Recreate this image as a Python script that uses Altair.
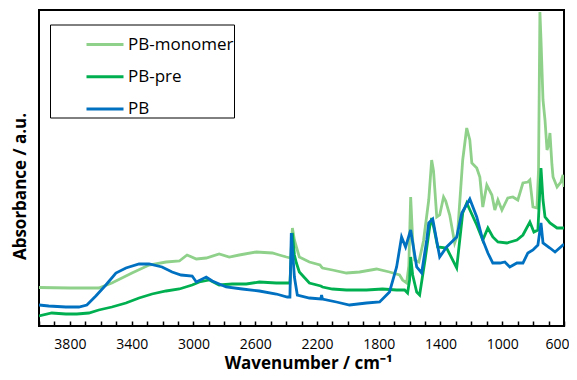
import altair as alt
import pandas as pd

series_names = ["PB-monomer", "PB-pre", "PB"]
colors = ["#8FD18A", "#00B050", "#0070C0"]

mono_wn = [4000, 3800, 3613, 3528, 3398, 3287, 3177, 3091, 3041, 2981, 2917, 2833, 2768, 2703, 2593, 2489, 2444, 2398, 2370, 2359, 2346, 2333, 2314, 2249, 2180, 2170, 2164, 2100, 2009, 1924, 1814, 1730, 1665, 1645, 1619, 1605, 1593, 1580, 1567, 1540, 1510, 1476, 1457, 1445, 1424, 1405, 1380, 1366, 1340, 1308, 1290, 1256, 1230, 1210, 1197, 1165, 1145, 1126, 1100, 1067, 1048, 1028, 1002, 964, 931, 899, 866, 834, 821, 801, 775, 765, 756, 749, 736, 723, 710, 700, 691, 678, 671, 645, 620, 606, 600]
mono_ab = [0.385, 0.38, 0.38, 0.43, 0.53, 0.61, 0.64, 0.65, 0.71, 0.67, 0.68, 0.72, 0.69, 0.71, 0.74, 0.73, 0.71, 0.69, 0.68, 0.98, 0.86, 0.79, 0.69, 0.64, 0.61, 0.59, 0.58, 0.56, 0.53, 0.54, 0.57, 0.54, 0.51, 0.46, 0.43, 0.60, 1.29, 0.86, 0.66, 0.64, 0.85, 1.26, 1.66, 1.55, 1.09, 1.11, 1.29, 1.25, 1.11, 0.83, 0.91, 1.66, 1.98, 1.86, 1.63, 1.58, 1.49, 1.19, 1.41, 1.31, 1.16, 1.26, 1.16, 1.28, 1.29, 1.26, 1.43, 1.44, 1.46, 1.19, 1.18, 1.56, 3.14, 2.86, 2.26, 2.06, 1.76, 1.81, 1.93, 1.61, 1.49, 1.39, 1.44, 1.51, 1.39]

pre_wn = [4000, 3917, 3826, 3755, 3677, 3613, 3528, 3437, 3352, 3268, 3177, 3091, 3008, 2962, 2897, 2833, 2749, 2658, 2573, 2463, 2398, 2375, 2359, 2346, 2333, 2314, 2249, 2175, 2164, 2100, 2009, 1879, 1775, 1684, 1632, 1613, 1600, 1593, 1580, 1554, 1535, 1500, 1470, 1457, 1440, 1418, 1360, 1295, 1256, 1230, 1165, 1126, 1093, 1061, 1028, 970, 905, 866, 821, 795, 769, 749, 736, 723, 691, 645, 606, 600]
pre_ab = [0.10, 0.13, 0.12, 0.12, 0.13, 0.16, 0.19, 0.23, 0.28, 0.32, 0.35, 0.37, 0.41, 0.44, 0.46, 0.41, 0.42, 0.42, 0.44, 0.43, 0.43, 0.43, 0.93, 0.71, 0.63, 0.54, 0.43, 0.40, 0.39, 0.37, 0.36, 0.36, 0.37, 0.36, 0.36, 0.33, 0.46, 0.69, 0.51, 0.34, 0.31, 0.66, 0.99, 1.08, 0.96, 0.79, 0.78, 0.58, 1.13, 1.23, 1.01, 0.86, 0.98, 0.89, 0.84, 0.83, 0.86, 0.91, 1.04, 0.94, 0.96, 1.58, 1.26, 1.09, 1.03, 0.98, 0.98, 0.98]

pb_wn = [4000, 3937, 3826, 3742, 3690, 3632, 3567, 3502, 3437, 3352, 3287, 3203, 3138, 3080, 3008, 2981, 2917, 2878, 2788, 2684, 2573, 2463, 2392, 2375, 2366, 2346, 2327, 2249, 2175, 2170, 2164, 2074, 1989, 1879, 1794, 1730, 1684, 1652, 1626, 1593, 1554, 1522, 1489, 1476, 1450, 1405, 1360, 1295, 1262, 1210, 1165, 1126, 1093, 1061, 1015, 983, 951, 905, 866, 834, 801, 769, 749, 736, 691, 658, 606, 600]
pb_ab = [0.21, 0.20, 0.19, 0.19, 0.21, 0.30, 0.41, 0.53, 0.58, 0.62, 0.62, 0.59, 0.54, 0.51, 0.50, 0.44, 0.49, 0.45, 0.39, 0.37, 0.35, 0.32, 0.29, 0.29, 0.93, 0.49, 0.31, 0.28, 0.27, 0.31, 0.27, 0.24, 0.21, 0.23, 0.24, 0.34, 0.59, 0.89, 0.79, 0.96, 0.59, 0.53, 0.86, 1.03, 1.07, 0.69, 0.79, 0.89, 1.13, 1.27, 1.09, 0.86, 0.73, 0.63, 0.63, 0.64, 0.59, 0.63, 0.63, 0.73, 0.76, 0.81, 1.03, 0.83, 0.78, 0.74, 0.81, 0.81]

tick_values = list(range(600, 4001, 100))

rows = []
for name, wns, abs_ in [("PB-monomer", mono_wn, mono_ab), ("PB-pre", pre_wn, pre_ab), ("PB", pb_wn, pb_ab)]:
    for w, a in zip(wns, abs_):
        rows.append({"series": name, "wn": w, "ab": a})
df = pd.DataFrame(rows)

font = "Open Sans"

chart = alt.Chart(df).mark_line(strokeWidth=2.8, clip=True).encode(
    x=alt.X("wn:Q", title="Wavenumber / cm⁻¹",
            scale=alt.Scale(domain=[4000, 600], nice=False, zero=False),
            axis=alt.Axis(values=tick_values, labelExpr="datum.value % 400 == 200 ? datum.label : ''",
                          format="d", grid=False, domain=False, offset=-5, tickSize=5, tickColor="black",
                          tickWidth=1.5, labelPadding=11, labelFontSize=14, labelFont=font, labelColor="black",
                          titleFont=font, titleFontSize=17, titleFontWeight="bold", titleColor="black",
                          titlePadding=4, titleX=269, labelFlush=True, labelFlushOffset=5)),
    y=alt.Y("ab:Q", title="Absorbance / a.u.",
            scale=alt.Scale(domain=[0, 3.16], nice=False),
            axis=alt.Axis(labels=False, ticks=False, domain=False, grid=False,
                          titleFont=font, titleFontSize=17, titleFontWeight="bold", titleColor="black",
                          titlePadding=10, titleY=176)),
    color=alt.Color("series:N", sort=series_names,
                    scale=alt.Scale(domain=series_names, range=colors),
                    legend=alt.Legend(title=None,
                                      orient="none", legendX=11, legendY=14.5,
                                      strokeColor="black", fillColor="white", padding=0,
                                      symbolType="stroke", symbolSize=1369, symbolStrokeWidth=3,
                                      symbolOffset=35,
                                      labelFontSize=17, labelFont=font, labelColor="black",
                                      labelOffset=3, rowPadding=4.3)),
    order=alt.Order("wn:Q"),
).properties(
    width=525, height=316,
    autosize=alt.AutoSizeParams(type="none"),
    padding={"left": 31, "top": 2, "right": 5, "bottom": 46},
).configure_view(stroke="black", strokeWidth=2)

chart.save("out.html", embed_options={"renderer": "svg", "actions": False})
